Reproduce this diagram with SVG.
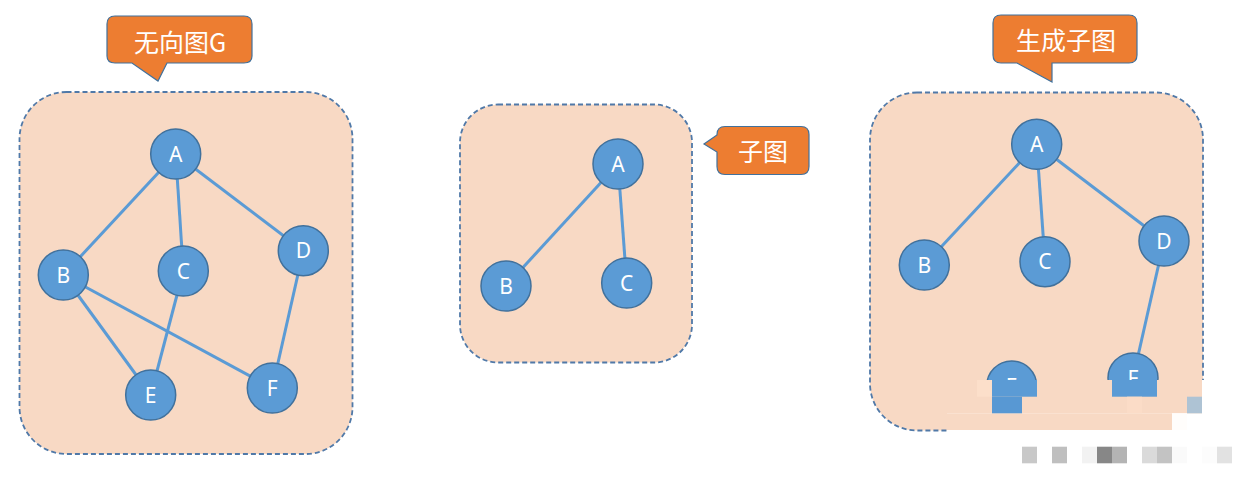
<svg xmlns="http://www.w3.org/2000/svg" width="1247" height="480" viewBox="0 0 1247 480">
<defs>
<style>
.panel{fill:#f8d9c4;stroke:#5079a8;stroke-width:1.8;stroke-dasharray:5 3}
.node circle{fill:#5b9bd5;stroke:#41719c;stroke-width:1.5}
.node text{fill:#ffffff;font-family:"Noto Sans","Open Sans",sans-serif;font-size:21px;text-anchor:middle}
.edges line{stroke:#5b9bd5;stroke-width:3}
.callout path{fill:#ed7d31;stroke:#41719c;stroke-width:1.2}
.callout text{fill:#ffffff;font-family:"Noto Sans CJK SC","Noto Sans",sans-serif;font-size:25px;text-anchor:middle;dominant-baseline:central}
</style>
</defs>
<rect width="1247" height="480" fill="#ffffff"/>

<!-- panels -->
<rect class="panel" x="19.5" y="92" width="333" height="362" rx="47" ry="47"/>
<rect class="panel" x="460" y="104.5" width="232" height="258" rx="38" ry="38"/>
<rect class="panel" x="870" y="92.5" width="333" height="338" rx="47" ry="47"/>

<!-- callouts -->
<g id="callout-undirected" class="callout">
<path d="M115,16 H244 Q252,16 252,24 V56 Q252,63 244,63 H167 L158,81 L132,63 H115 Q107,63 107,56 V24 Q107,16 115,16 Z"/>
<text x="180" y="40.5">无向图G</text>
</g>
<g id="callout-subgraph" class="callout">
<path d="M725,126.5 H801 Q809,126.5 809,134.5 V166.5 Q809,174.5 801,174.5 H725 Q717,174.5 717,166.5 V152 L704,144 L717,135 V134.5 Q717,126.5 725,126.5 Z"/>
<text x="763" y="149.5">子图</text>
</g>
<g id="callout-spanning" class="callout">
<path d="M1001,15 H1129 Q1137,15 1137,23 V55 Q1137,63 1129,63 H1052 V82 L1017,63 H1001 Q993,63 993,55 V23 Q993,15 1001,15 Z"/>
<text x="1066" y="38.5">生成子图</text>
</g>

<!-- connectors -->
<g id="connectors" class="edges">
<line x1="175.7" y1="154" x2="63.3" y2="275"/>
<line x1="175.7" y1="154" x2="183.3" y2="271"/>
<line x1="175.7" y1="154" x2="303.3" y2="250.7"/>
<line x1="63.3" y1="275" x2="150.7" y2="395"/>
<line x1="63.3" y1="275" x2="272.3" y2="388"/>
<line x1="183.3" y1="271" x2="150.7" y2="395"/>
<line x1="303.3" y1="250.7" x2="272.3" y2="388"/>
<line x1="618" y1="164" x2="506" y2="286"/>
<line x1="618" y1="164" x2="626.7" y2="283"/>
<line x1="1036.7" y1="144.3" x2="924.3" y2="265"/>
<line x1="1036.7" y1="144.3" x2="1045" y2="261.7"/>
<line x1="1036.7" y1="144.3" x2="1164" y2="241"/>
<line x1="1164" y1="241" x2="1133" y2="378"/>
</g>

<!-- left graph -->
<g id="g1-A" class="node"><circle cx="175.7" cy="154" r="25"/><text x="175.7" y="161.5">A</text></g>
<g id="g1-B" class="node"><circle cx="63.3" cy="275" r="25"/><text x="63.3" y="282.5">B</text></g>
<g id="g1-C" class="node"><circle cx="183.3" cy="271" r="25"/><text x="183.3" y="278.5">C</text></g>
<g id="g1-D" class="node"><circle cx="303.3" cy="250.7" r="25"/><text x="303.3" y="258.2">D</text></g>
<g id="g1-E" class="node"><circle cx="150.7" cy="395" r="25"/><text x="150.7" y="402.5">E</text></g>
<g id="g1-F" class="node"><circle cx="272.3" cy="388" r="25"/><text x="272.3" y="395.5">F</text></g>

<!-- middle graph -->
<g id="g2-A" class="node"><circle cx="618" cy="164" r="25"/><text x="618" y="171.5">A</text></g>
<g id="g2-B" class="node"><circle cx="506" cy="286" r="25"/><text x="506" y="293.5">B</text></g>
<g id="g2-C" class="node"><circle cx="626.7" cy="283" r="25"/><text x="626.7" y="290.5">C</text></g>

<!-- right graph -->
<g id="g3-A" class="node"><circle cx="1036.7" cy="144.3" r="25"/><text x="1036.7" y="151.8">A</text></g>
<g id="g3-B" class="node"><circle cx="924.3" cy="265" r="25"/><text x="924.3" y="272.5">B</text></g>
<g id="g3-C" class="node"><circle cx="1045" cy="261.7" r="25"/><text x="1045" y="269.2">C</text></g>
<g id="g3-D" class="node"><circle cx="1164" cy="241" r="25"/><text x="1164" y="248.5">D</text></g>
<g id="g3-E" class="node"><circle cx="1011.7" cy="386" r="25"/><text x="1011.7" y="393.5">E</text></g>
<g id="g3-F" class="node"><circle cx="1133" cy="378" r="25"/><text x="1133" y="385.5">F</text></g>

<!-- pixelated mosaic region -->
<g id="mosaic">
<rect x="947" y="380" width="300" height="100" fill="#ffffff"/>
<rect x="947" y="380" width="255" height="33.3" fill="#f8d9c4"/>
<rect x="947" y="413.3" width="225" height="16.7" fill="#f8d9c4"/>
<rect x="977" y="380" width="15" height="16.7" fill="#fcdfca"/>
<rect x="992" y="380" width="45" height="16.7" fill="#5b9bd5"/>
<rect x="992" y="396.7" width="30" height="16.6" fill="#5898d3"/>
<rect x="1112" y="380" width="45" height="16.7" fill="#5b9bd5"/>
<rect x="1127" y="396.7" width="15" height="16.6" fill="#fbdcc7"/>
<rect x="1187" y="396.7" width="15" height="16.6" fill="#aec3d4"/>
<rect x="1172" y="413.3" width="15" height="16.7" fill="#fffdfb"/>
<rect x="1022" y="446.7" width="15" height="16.6" fill="#c8c8c8"/>
<rect x="1052" y="446.7" width="15" height="16.6" fill="#bfbfbf"/>
<rect x="1082" y="446.7" width="15" height="16.6" fill="#f2f2f2"/>
<rect x="1097" y="446.7" width="15" height="16.6" fill="#878787"/>
<rect x="1112" y="446.7" width="15" height="16.6" fill="#b4b4b4"/>
<rect x="1142" y="446.7" width="15" height="16.6" fill="#dadada"/>
<rect x="1157" y="446.7" width="15" height="16.6" fill="#c3c3c3"/>
<rect x="1172" y="446.7" width="15" height="16.6" fill="#fafafa"/>
<rect x="1202" y="446.7" width="15" height="16.6" fill="#fcfcfc"/>
<rect x="1217" y="446.7" width="15" height="16.6" fill="#e2e2e2"/>
</g>
</svg>
